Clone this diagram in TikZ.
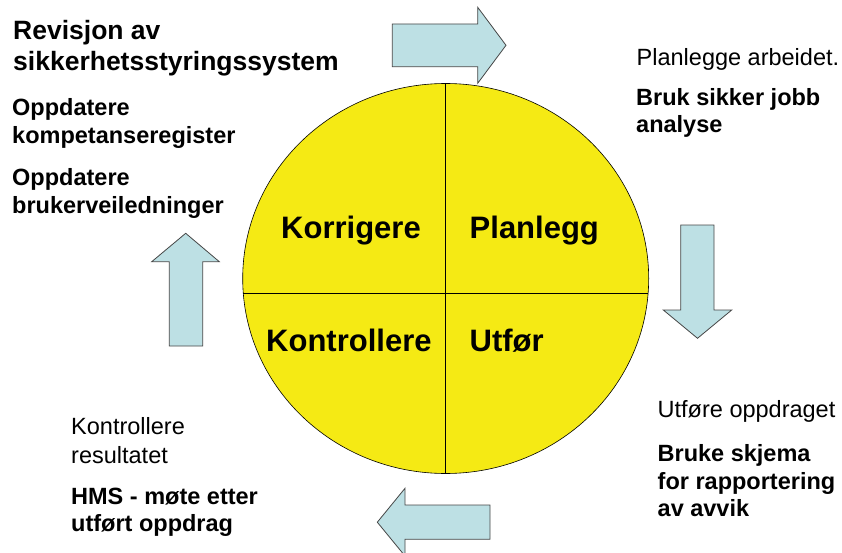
\documentclass[tikz,border=0pt]{standalone}
\usepackage{fontspec}
\setmainfont{Liberation Sans}
\usetikzlibrary{positioning}
\definecolor{circleyellow}{RGB}{245,234,20}
\definecolor{arrowblue}{RGB}{189,224,228}

\begin{document}
\begin{tikzpicture}[
    x=1pt, y=-1pt,
    quarter/.style={font=\fontsize{31}{36}\selectfont\bfseries, anchor=base west, inner sep=0pt},
    headline/.style={font=\fontsize{26.5}{30.7}\selectfont\bfseries, align=left, anchor=base west, inner sep=0pt},
    plaintext/.style={font=\fontsize{23.5}{29}\selectfont, align=left, anchor=base west, inner sep=0pt},
    boldtext/.style={font=\fontsize{23.5}{27.5}\selectfont\bfseries, align=left, anchor=base west, inner sep=0pt},
    bluearrow/.style={fill=arrowblue, draw=gray!55!black, line width=0.8pt}
]
\useasboundingbox (0,0) rectangle (842,553);

% Circle
\coordinate (centre) at (445.7,278.5);
\fill[circleyellow] (centre) ellipse [x radius=203pt, y radius=195pt];
\coordinate (west) at (243.3,293.5);
\coordinate (east) at (648.1,293.5);
\coordinate (north) at (445.7,83.5);
\coordinate (south) at (445.7,473.5);
\draw[line width=0.8pt] (west) -- (east);
\draw[line width=0.8pt] (north) -- (south);
\draw[line width=0.6pt] (centre) ellipse [x radius=203pt, y radius=195pt];

% Quarter labels
\node[quarter] (korrigere) at (281,238.3) {Korrigere};
\node[quarter] (planlegg) at (469.5,238.3) {Planlegg};
\node[quarter] (kontrollere) at (266,351.7) {Kontrollere};
\node[quarter] (utfor) at (469.5,351.7) {Utfør};

% Arrows
\draw[bluearrow] (392.3,24) -- (477.7,24) -- (477.7,7.3) -- (506,45.3) -- (477.7,83.3) -- (477.7,66.7) -- (392.3,66.7) -- cycle;
\draw[bluearrow] (680.7,225) -- (714,225) -- (714,310) -- (731.7,310) -- (697.5,338.3) -- (663.3,310) -- (680.7,310) -- cycle;
\draw[bluearrow] (490,505) -- (405,505) -- (405,488.3) -- (377.3,522.2) -- (405,556) -- (405,539.3) -- (490,539.3) -- cycle;
\draw[bluearrow] (202.7,346) -- (202.7,261.7) -- (219.3,261.7) -- (185.7,233.3) -- (151.7,261.7) -- (169.3,261.7) -- (169.3,346) -- cycle;

% Text (base = last line)
\node[headline] (revisjon) at (13,70.7) {Revisjon av\\sikkerhetsstyringssystem};
\node[boldtext] (kompetanse) at (12,143.3) {Oppdatere\\kompetanseregister};
\node[boldtext] (veiledning) at (12,213.3) {Oppdatere\\brukerveiledninger};
\node[plaintext] (arbeid) at (636.5,66) {Planlegge arbeidet.};
\node[boldtext] (jobbanalyse) at (636,132.7) {Bruk sikker jobb\\analyse};
\node[plaintext] (oppdrag) at (657.5,417.3) {Utføre oppdraget};
\node[boldtext] (skjema) at (657.5,516.7) {Bruke skjema\\for rapportering\\av avvik};
\node[plaintext] (resultat) at (71,463.3) {Kontrollere\\resultatet};
\node[boldtext] (hmsmote) at (71,531.7) {HMS - møte etter\\utført oppdrag};

\end{tikzpicture}
\end{document}
